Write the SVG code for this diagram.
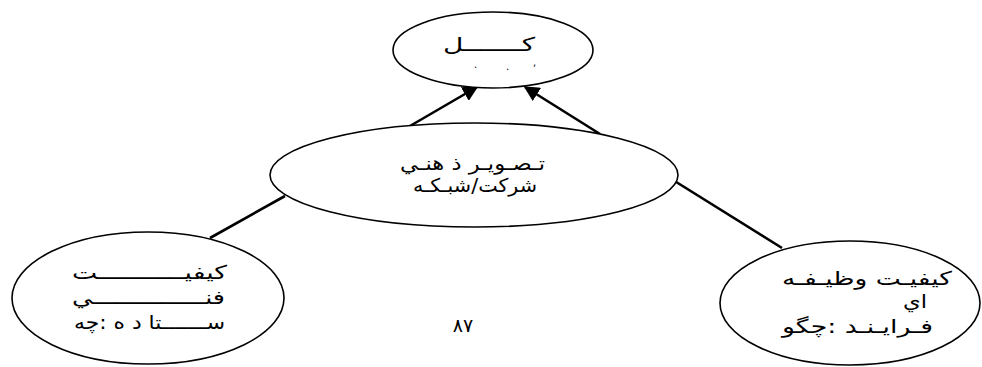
<svg xmlns="http://www.w3.org/2000/svg" width="982" height="367" viewBox="0 0 982 367">
<style>
.n{fill:#fff;stroke:#000;stroke-width:1.6}
.t{font-family:"DejaVu Sans","Liberation Sans",sans-serif;font-size:19px;fill:#000}
.c{stroke:#000;stroke-width:2.6;fill:none}
</style>
<defs>
<marker id="ah" viewBox="0 0 10 10" refX="9" refY="5" markerWidth="6" markerHeight="6" orient="auto" markerUnits="strokeWidth">
<path d="M0,0 L10,5 L0,10 z" fill="#000"/>
</marker>
</defs>
<rect width="982" height="367" fill="#fff"/>
<g id="connectors">
<line class="c" x1="410" y1="126" x2="477" y2="87" marker-end="url(#ah)"/>
<line class="c" x1="600" y1="134" x2="525" y2="87" marker-end="url(#ah)"/>
<line class="c" x1="285" y1="196" x2="210" y2="238"/>
<line class="c" x1="673" y1="180" x2="782" y2="248"/>
</g>
<g id="node-top">
<ellipse class="n" cx="493" cy="50" rx="100" ry="38"/>
<text class="t" x="443" y="51" textLength="92" lengthAdjust="spacingAndGlyphs">كـــــــل</text>
<text class="t" x="474" y="68" style="font-size:10px">.</text>
<text class="t" x="506" y="70" style="font-size:10px">.</text>
<text class="t" x="533" y="66" style="font-size:10px">,</text>
</g>
<g id="node-center">
<ellipse class="n" cx="474" cy="175" rx="204" ry="52"/>
<text class="t" x="400" y="170" textLength="145" lengthAdjust="spacingAndGlyphs">تـصـويـر  ذ  هنـي</text>
<text class="t" x="413" y="192" textLength="124" lengthAdjust="spacingAndGlyphs">شركت/شبـكـه</text>
</g>
<g id="node-left">
<ellipse class="n" cx="148" cy="298" rx="136" ry="66"/>
<text class="t" x="72" y="279" textLength="155" lengthAdjust="spacingAndGlyphs">كيفيـــــــــــت</text>
<text class="t" x="72" y="304" textLength="153" lengthAdjust="spacingAndGlyphs">فنـــــــــــــــي</text>
<text class="t" x="74" y="329" textLength="151" lengthAdjust="spacingAndGlyphs">ســـــــتا د ه :چه</text>
</g>
<g id="node-right">
<ellipse class="n" cx="850" cy="303" rx="130" ry="62"/>
<text class="t" x="782" y="285" textLength="170" lengthAdjust="spacingAndGlyphs">كيفيـت  وظيـفـه</text>
<text class="t" x="903" y="308" textLength="24" lengthAdjust="spacingAndGlyphs">اي</text>
<text class="t" x="782" y="333" textLength="151" lengthAdjust="spacingAndGlyphs">فـرايـنـد :چگو</text>
</g>
<text class="t" x="463" y="332" text-anchor="middle" style="font-size:19px">۸۷</text>
</svg>
